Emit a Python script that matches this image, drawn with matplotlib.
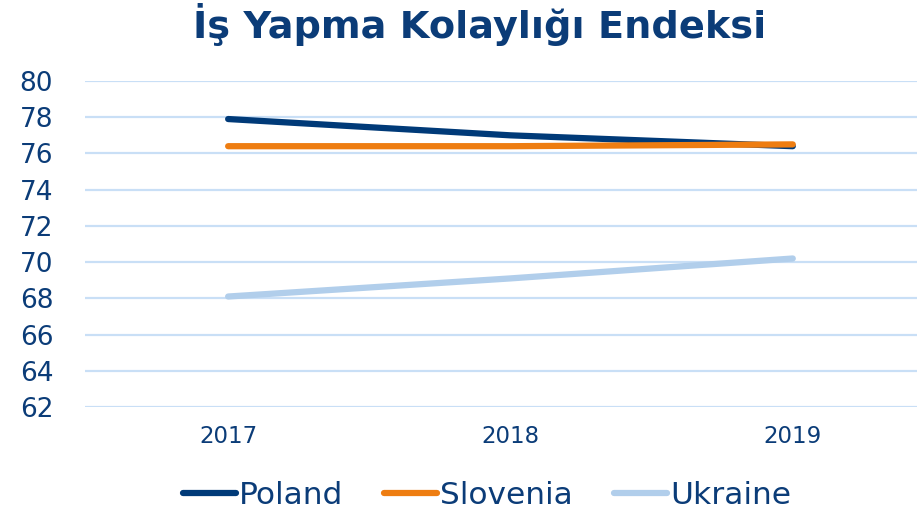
import matplotlib
matplotlib.use("Agg")
import matplotlib.pyplot as plt

years = ["2017", "2018", "2019"]
poland = [77.9, 77.0, 76.4]
slovenia = [76.4, 76.4, 76.5]
ukraine = [68.1, 69.1, 70.2]
yticks = [62, 64, 66, 68, 70, 72, 74, 76, 78, 80]

text_color = "#0B3C78"
plt.rcParams['font.family'] = ['DejaVu Sans']

fig = plt.figure(figsize=(9.17, 5.17), dpi=100)
ax = fig.add_axes([85/917, 110/517, 832/917, 326/517])

x = range(len(years))
ax.plot(x, poland, color="#003A78", lw=4.5, solid_capstyle="round", label="Poland", zorder=3)
ax.plot(x, slovenia, color="#EE7D11", lw=4.5, solid_capstyle="round", label="Slovenia", zorder=3)
ax.plot(x, ukraine, color="#B1CEEB", lw=4.5, solid_capstyle="round", label="Ukraine", zorder=3)

ax.set_ylim(62, 80)
ax.set_xlim(-0.507, 2.44)
ax.set_yticks(yticks)
ax.set_xticks(list(x))
ax.set_xticklabels(years)
ax.grid(axis="y", color="#C9DFF6", lw=1.6)
ax.set_axisbelow(True)
for s in ax.spines.values():
    s.set_visible(False)
ax.tick_params(axis="both", length=0, colors=text_color)
ax.tick_params(axis="y", labelsize=19, pad=47)
ax.tick_params(axis="x", labelsize=16.5, pad=13)
for lab in ax.get_yticklabels():
    lab.set_horizontalalignment("left")

fig.text(0.523, 0.952, "İş Yapma Kolaylığı Endeksi", ha="center", va="center",
         fontsize=27.5, fontweight="bold", color=text_color)

leg = fig.legend(loc="center", bbox_to_anchor=(0.531, 0.042), ncol=3, frameon=False,
                 fontsize=22.5, handlelength=1.7, handletextpad=0.1, columnspacing=1.3)
for t in leg.get_texts():
    t.set_color(text_color)

fig.savefig("out.png", dpi=100)
